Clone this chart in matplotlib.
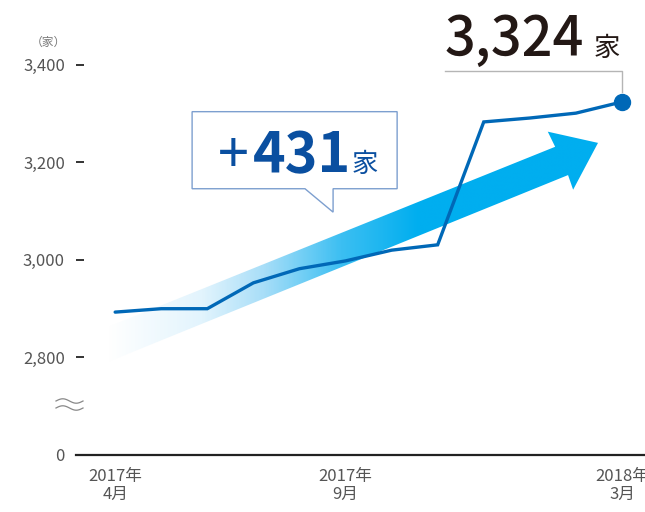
import numpy as np
import matplotlib.pyplot as plt
from matplotlib.patches import Polygon
from matplotlib.colors import LinearSegmentedColormap

plt.rcParams['font.family'] = ['Noto Sans CJK JP', 'DejaVu Sans']

# data
months = ['2017年\n4月', '5月', '6月', '7月', '8月', '2017年\n9月',
          '10月', '11月', '12月', '1月', '2月', '2018年\n3月']
stores = [2893, 2900, 2900, 2953, 2982, 2998, 3020, 3031, 3283, 3291, 3301, 3324]
label_idx = [0, 5, 11]
ytick_vals = [0, 2800, 3000, 3200, 3400]
ytick_text = ['0', '2,800', '3,000', '3,200', '3,400']
BREAK_BASE = 2600  # 0 is drawn where 2,600 would be

line_c = '#0068b7'
arrow_c = '#00aeef'
gray = '#555555'

fig = plt.figure(figsize=(6.45, 5.12), dpi=100)
ax = fig.add_axes([76/645, 57/512, 1 - 76/645, 1 - 57/512])

x = np.arange(len(stores))
ax.set_xlim(-0.85, 11.5)
ax.set_ylim(BREAK_BASE, 3533)

# gradient arrow (decoration)
arrow_pts = [(-0.15, 2863), (9.55, 3232), (9.39, 3263), (10.48, 3240),
             (9.94, 3144), (9.83, 3174), (-0.15, 2791)]
poly = Polygon(arrow_pts, closed=True, facecolor='none', edgecolor='none')
ax.add_patch(poly)
cmap = LinearSegmentedColormap.from_list(
    'arr', [(0, '#ffffff'), (0.3, '#e2f4fd'), (0.5, '#a8def8'),
            (0.75, '#3cbff2'), (1, arrow_c)])
grad = np.clip(np.linspace(0, 10.75 / 6.75, 512), 0, 1).reshape(1, -1)
im = ax.imshow(grad, extent=[-0.15, 10.6, 2760, 3280], aspect='auto',
               cmap=cmap, vmin=0, vmax=1, zorder=1, interpolation='bilinear')
im.set_clip_path(poly)

# line
ax.plot(x, stores, color=line_c, lw=2.4, zorder=3, solid_capstyle='round',
        solid_joinstyle='miter')
ax.plot(x[-1], stores[-1], 'o', color=line_c, ms=11.5, zorder=4)

# leader line to total
ax.plot([7.16, x[-1], x[-1]], [3388, 3388, 3345], color='#b5b5b5', lw=1, zorder=2)
ax.text(7.16, 3419, f'{stores[-1]:,}', fontsize=39, color='#231815',
        fontweight='medium', ha='left', va='baseline')
ax.text(10.39, 3419, '家', fontsize=19, color='#231815', ha='left', va='baseline')

# callout box
box = Polygon([(1.67, 3304), (6.12, 3304), (6.12, 3146), (4.73, 3146),
               (4.73, 3098), (4.12, 3146), (1.67, 3146)], closed=True,
              facecolor='white', edgecolor='#7d9fcf', lw=1, zorder=5)
ax.add_patch(box)
diff = stores[-1] - stores[0]
ax.text(2.23, 3180, '+', fontsize=40, color='#0a4fa0',
        ha='left', va='baseline', zorder=6)
ax.text(2.99, 3180, f'{diff}', fontsize=40, color='#0a4fa0', fontweight='bold',
        ha='left', va='baseline', zorder=6)
ax.text(5.13, 3180, '家', fontsize=19, color='#0a4fa0', ha='left', va='baseline',
        zorder=6)

# axes styling
for s in ['left', 'right', 'top']:
    ax.spines[s].set_visible(False)
ax.spines['bottom'].set_linewidth(1.6)
ax.spines['bottom'].set_color('#222222')

ypos = [BREAK_BASE if v == 0 else v for v in ytick_vals]
ax.set_yticks(ypos)
ax.set_yticklabels(ytick_text)
ax.tick_params(axis='y', direction='in', length=6, width=1.4, color='#333333',
               labelsize=12, labelcolor=gray, pad=8)
ax.set_xticks(label_idx)
ax.set_xticklabels([months[i] for i in label_idx], linespacing=1.1)
ax.tick_params(axis='x', length=0, labelsize=12, labelcolor=gray, pad=9)

# unit label
fig.text(48/645, 1 - 42/512, '（家）', fontsize=8.5, color='#777777',
         ha='center', va='center')

# axis break mark
t = np.linspace(0, 1, 50)
for dy in (0, 7):
    wx = (56 + 27 * t) / 645
    wy = 1 - (401 + dy - 2.2 * np.sin(2 * np.pi * t)) / 512
    fig.add_artist(plt.Line2D(wx, wy, color='#888888', lw=0.9))

fig.savefig('out.png', dpi=100)
